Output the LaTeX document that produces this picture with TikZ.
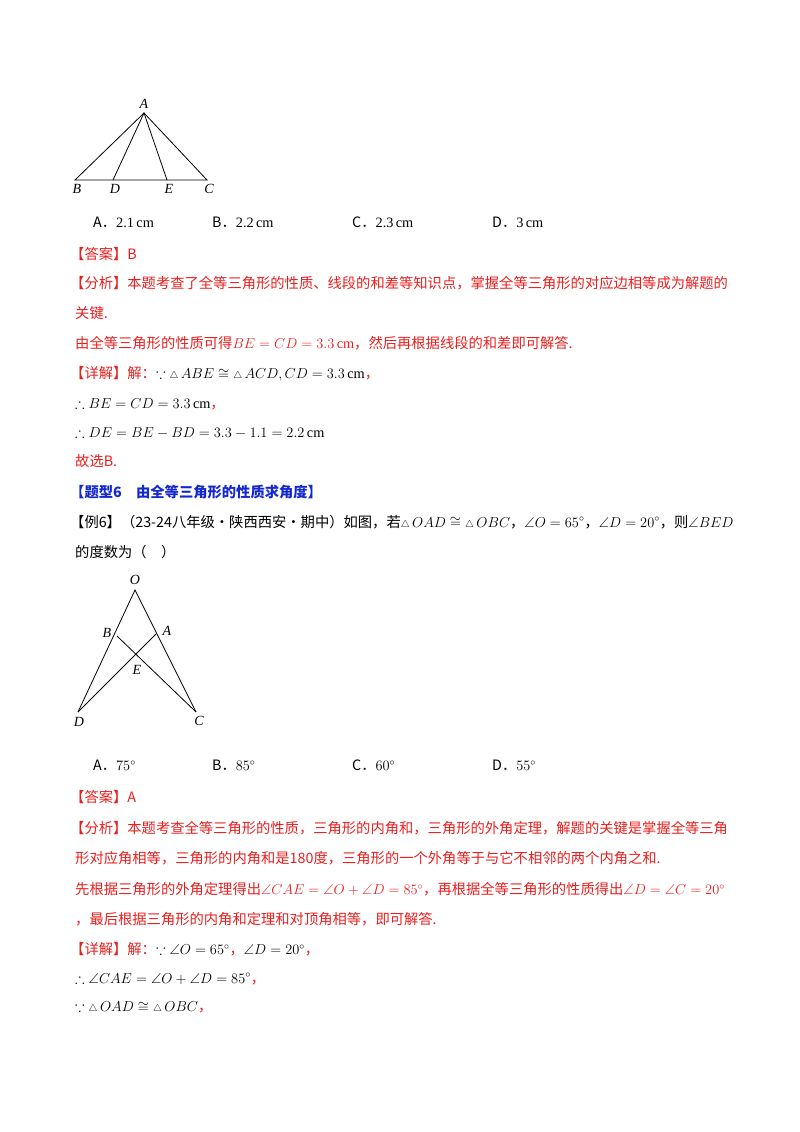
\documentclass[tikz,border=0pt]{standalone}
\usepackage{amssymb}
\usepackage{fontspec}
\setmainfont{Noto Sans CJK SC}
\newfontfamily\lat{Liberation Serif}
\definecolor{rd}{RGB}{235,30,30}
\definecolor{bl}{RGB}{20,40,210}
\newcommand{\rr}[1]{\textcolor{rd}{#1}}
\newcommand{\tri}{{\scriptstyle\triangle}\,}
\newcommand{\cmu}{\,{\lat cm}}
\begin{document}
\begin{tikzpicture}[x=1pt,y=-1pt,
  ln/.style={anchor=west,inner sep=0pt,font=\fontsize{14.3}{17}\selectfont},
  lab/.style={inner sep=0pt,font=\fontsize{14}{16}\selectfont\lat\itshape},
  seg/.style={line width=0.8pt}]
\useasboundingbox (0,0) rectangle (800,1132);
% figure 1
\coordinate (A) at (144,113);
\coordinate (B) at (75,180);
\coordinate (D) at (113,180);
\coordinate (E) at (167,180);
\coordinate (C) at (207,180);
\draw[seg] (B) -- (C) -- (A) -- cycle;
\draw[seg] (D) -- (A) -- (E);
\node[lab] (lA) at (144,104) {A};
\node[lab] (lB) at (77,189) {B};
\node[lab] (lD) at (115,189) {D};
\node[lab] (lE) at (169,189) {E};
\node[lab] (lC) at (209,189) {C};
% options 1
\node[ln] (o1) at (93,222) {A．{\lat 2.1}\cmu};
\node[ln] (o2) at (212,222) {B．{\lat 2.2}\cmu};
\node[ln] (o3) at (352,222) {C．{\lat 2.3}\cmu};
\node[ln] (o4) at (492,222) {D．{\lat 3}\cmu};
\node[ln] (t1) at (70,254) {\rr{【答案】B}};
\node[ln] (t2) at (70,283) {\rr{【分析】本题考查了全等三角形的性质、线段的和差等知识点，掌握全等三角形的对应边相等成为解题的}};
\node[ln] (t3) at (75,313) {\rr{关键.}};
\node[ln] (t4) at (75,343) {\rr{由全等三角形的性质可得$BE=CD=3.3$\cmu，然后再根据线段的和差即可解答.}};
\node[ln] (t5) at (70,374) {\rr{【详解】解：}$\because\tri ABE\cong\tri ACD, CD=3.3$\cmu\rr{，}};
\node[ln] (t6) at (75,404) {$\therefore BE=CD=3.3$\cmu\rr{，}};
\node[ln] (t7) at (75,433) {$\therefore DE=BE-BD=3.3-1.1=2.2$\cmu};
\node[ln] (t8) at (75,461) {\rr{故选B.}};
\node[ln] (t9) at (70,492) {\textcolor{bl}{\bfseries 【题型6\quad 由全等三角形的性质求角度】}};
\node[ln] (t10) at (70,522) {【例6】（23-24八年级·陕西西安·期中）如图，若$\tri OAD\cong\tri OBC$，$\angle O=65^\circ$，$\angle D=20^\circ$，则$\angle BED$};
\node[ln] (t11) at (75,552) {的度数为（\quad）};
% figure 2
\coordinate (O) at (135,590);
\coordinate (B2) at (117,636);
\coordinate (A2) at (156,634);
\coordinate (D2) at (78,712);
\coordinate (C2) at (196,712);
\draw[seg] (D2) -- (O) -- (C2);
\draw[seg] (B2) -- (C2);
\draw[seg] (A2) -- (D2);
\node[lab] (lO) at (135,580) {O};
\node[lab] (lB2) at (107,633) {B};
\node[lab] (lA2) at (167,631) {A};
\node[lab] (lE2) at (137,670) {E};
\node[lab] (lD2) at (79,722) {D};
\node[lab] (lC2) at (199,721) {C};
% options 2
\node[ln] (p1) at (93,765) {A．$75^\circ$};
\node[ln] (p2) at (212,765) {B．$85^\circ$};
\node[ln] (p3) at (352,765) {C．$60^\circ$};
\node[ln] (p4) at (492,765) {D．$55^\circ$};
\node[ln] (s1) at (70,797) {\rr{【答案】A}};
\node[ln] (s2) at (70,828) {\rr{【分析】本题考查全等三角形的性质，三角形的内角和，三角形的外角定理，解题的关键是掌握全等三角}};
\node[ln] (s3) at (75,858) {\rr{形对应角相等，三角形的内角和是180度，三角形的一个外角等于与它不相邻的两个内角之和.}};
\node[ln] (s4) at (75,889) {\rr{先根据三角形的外角定理得出$\angle CAE=\angle O+\angle D=85^\circ$，再根据全等三角形的性质得出$\angle D=\angle C=20^\circ$}};
\node[ln] (s5) at (75,919) {\rr{，最后根据三角形的内角和定理和对顶角相等，即可解答.}};
\node[ln] (s6) at (70,949) {\rr{【详解】解：}$\because\angle O=65^\circ$\rr{，}$\angle D=20^\circ$\rr{，}};
\node[ln] (s7) at (75,979) {$\therefore\angle CAE=\angle O+\angle D=85^\circ$\rr{，}};
\node[ln] (s8) at (75,1008) {$\because\tri OAD\cong\tri OBC$\rr{，}};
\end{tikzpicture}
\end{document}
